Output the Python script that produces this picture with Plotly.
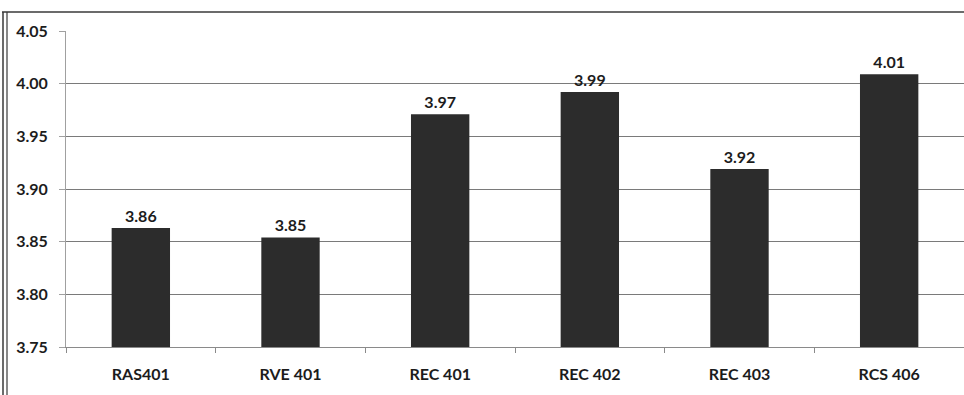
import plotly.graph_objects as go

categories = ["RAS401", "RVE 401", "REC 401", "REC 402", "REC 403", "RCS 406"]
values = [3.863, 3.854, 3.971, 3.992, 3.919, 4.009]
value_labels = ["3.86", "3.85", "3.97", "3.99", "3.92", "4.01"]
y_ticks = [3.75, 3.80, 3.85, 3.90, 3.95, 4.00, 4.05]
y_tick_labels = ["3.75", "3.80", "3.85", "3.90", "3.95", "4.00", "4.05"]
y_min, y_max = 3.75, 4.05

font_family = "Lato, 'Open Sans', sans-serif"
text_color = "#1c1c1c"

fig = go.Figure()
fig.add_trace(go.Bar(
    x=categories,
    y=[v - y_min for v in values],
    base=y_min,
    text=value_labels,
    textposition="outside",
    cliponaxis=False,
    textfont=dict(family=font_family, size=16, color=text_color, weight="bold"),
    marker=dict(color="#2c2c2c", line=dict(width=0)),
    width=0.39,
))

W, H = 964, 395
L, R, T, B = 66, 0, 31, 48
pw, ph = W - L - R, H - T - B

def px(x):
    return (x - L) / pw

def py(y):
    return (H - B - y) / ph

fig.update_layout(
    width=W, height=H,
    margin=dict(l=L, r=R, t=T, b=B),
    paper_bgcolor="white",
    plot_bgcolor="white",
    showlegend=False,
    font=dict(family=font_family, size=16, color=text_color),
    shapes=[
        dict(type="line", xref="paper", yref="paper",
             x0=px(2), x1=px(964), y0=py(12), y1=py(12),
             line=dict(color="#3a3a3a", width=1.5)),
        dict(type="line", xref="paper", yref="paper",
             x0=px(3), x1=px(3), y0=py(12), y1=py(395),
             line=dict(color="#3a3a3a", width=1.5)),
        dict(type="line", xref="paper", yref="paper",
             x0=px(7), x1=px(7), y0=py(12), y1=py(395),
             line=dict(color="#3a3a3a", width=1.2)),
    ],
)
fig.update_yaxes(
    range=[y_min, y_max],
    tickvals=y_ticks,
    ticktext=y_tick_labels,
    tickfont=dict(family=font_family, size=16, color=text_color, weight="bold"),
    showgrid=True, gridcolor="#7a7a7a", gridwidth=1,
    showline=True, linecolor="#a0a0a0", linewidth=1,
    ticks="outside", ticklen=6, tickcolor="#a0a0a0",
    ticklabelstandoff=8,
    zeroline=False,
)
fig.update_xaxes(
    tickfont=dict(family=font_family, size=16, color=text_color, weight="bold"),
    showline=True, linecolor="#8a8a8a", linewidth=1,
    ticks="outside", tickson="boundaries", ticklen=5, tickcolor="#8a8a8a",
    ticklabelstandoff=13,
    showgrid=False,
)

fig.write_html("out.html",
               config={"displayModeBar": False},
               post_script="document.body.style.margin='0';document.body.style.overflow='hidden';")
